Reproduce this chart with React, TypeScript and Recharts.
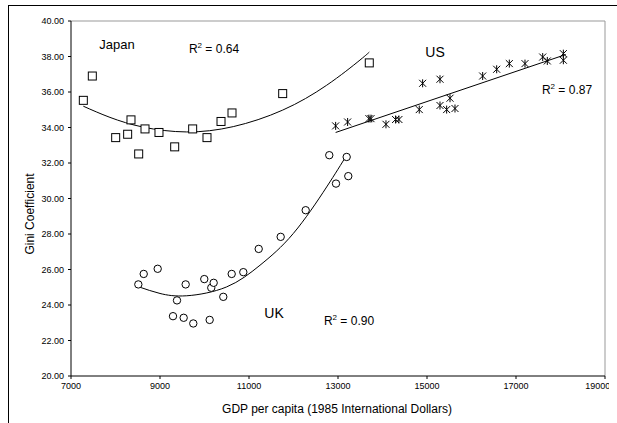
import React from "react";
import {
  ComposedChart,
  Scatter,
  Line,
  XAxis,
  YAxis,
  ReferenceLine,
} from "recharts";

// GDP per capita (x) and Gini coefficient (y)
const japanX = [7277, 7479, 8004, 8273, 8348, 8521, 8663, 8977, 9330, 9734, 10056, 10371, 10618, 11757, 13703];
const japanY = [35.53, 36.9, 33.43, 33.62, 34.43, 32.51, 33.92, 33.72, 32.91, 33.92, 33.43, 34.34, 34.82, 35.91, 37.64];

const ukX = [8513, 8634, 8948, 9292, 9382, 9532, 9577, 9748, 9995, 10116, 10152, 10206, 10422, 10611, 10872, 11218, 11712, 12274, 12804, 12955, 13195, 13231];
const ukY = [25.16, 25.75, 26.04, 23.37, 24.26, 23.28, 25.16, 22.96, 25.46, 23.16, 24.97, 25.25, 24.46, 25.75, 25.85, 27.16, 27.84, 29.34, 32.44, 30.84, 32.34, 31.26];

const usX = [12947, 13216, 13695, 13741, 14078, 14294, 14369, 14826, 14902, 15292, 15292, 15442, 15517, 15629, 16251, 16566, 16850, 17202, 17600, 17704, 18064, 18064];
const usY = [34.09, 34.31, 34.5, 34.5, 34.18, 34.45, 34.45, 35.01, 36.49, 36.72, 35.24, 35.01, 35.65, 35.07, 36.9, 37.28, 37.6, 37.6, 37.97, 37.75, 38.16, 37.79];

// trend curves, points
const japanTrendX = [7277, 7876, 8625, 9600, 10647, 11757, 12745, 13494, 13703];
const japanTrendY = [35.2, 34.57, 34.02, 33.75, 34.05, 34.98, 36.38, 37.8, 38.25];
const ukTrendX = [8528, 9000, 9600, 10498, 11247, 11996, 12745, 13195];
const ukTrendY = [25.02, 24.65, 24.52, 25.02, 26.24, 28.03, 30.65, 32.44];
const usTrendX = [12947, 18118];
const usTrendY = [33.72, 38.11];

const xTicks = [7000, 9000, 11000, 13000, 15000, 17000, 19000];
const yTicks = [20, 22, 24, 26, 28, 30, 32, 34, 36, 38, 40];

const zip = (xs: number[], ys: number[]) => xs.map((x, i) => ({ x, y: ys[i] }));

const FONT = '"Liberation Sans", Arial, sans-serif';

const SquareMark = (props: any) => {
  const { cx, cy } = props;
  return <rect x={cx - 4} y={cy - 4} width={8} height={8} fill="#fff" stroke="#000" strokeWidth={1} />;
};

const CircleMark = (props: any) => {
  const { cx, cy } = props;
  return <circle cx={cx} cy={cy} r={3.7} fill="#fff" stroke="#000" strokeWidth={1} />;
};

const StarMark = (props: any) => {
  const { cx, cy } = props;
  const s = 3.5;
  return (
    <g stroke="#000" strokeWidth={1}>
      <line x1={cx - s} y1={cy - s} x2={cx + s} y2={cy + s} />
      <line x1={cx - s} y1={cy + s} x2={cx + s} y2={cy - s} />
      <line x1={cx} y1={cy - s - 0.5} x2={cx} y2={cy + s + 0.5} />
    </g>
  );
};

function Note({ x, y, children, size = 13, rotate = 0 }: any) {
  return (
    <div
      style={{
        position: "absolute",
        left: x,
        top: y,
        transform: `translate(-50%, -50%) rotate(${rotate}deg)`,
        fontFamily: FONT,
        fontSize: size,
        lineHeight: 1,
        whiteSpace: "nowrap",
        color: "#000",
      }}
    >
      {children}
    </div>
  );
}

function R2({ value }: { value: string }) {
  return (
    <span>
      R<span style={{ fontSize: 8, position: "relative", top: -5 }}>2</span> = {value}
    </span>
  );
}

export default function App() {
  return (
    <div
      style={{
        position: "absolute",
        left: 8,
        top: 5,
        width: 609,
        height: 418,
        borderLeft: "1px solid #000",
        borderTop: "1px solid #000",
        boxSizing: "border-box",
        background: "#fff",
      }}
    >
      <ComposedChart width={600} height={410} margin={{ top: 15, right: 4, bottom: 10, left: 0 }}>
        <XAxis
          type="number"
          dataKey="x"
          domain={[7000, 19000]}
          ticks={xTicks}
          tick={{ fontSize: 9, fill: "#000", fontFamily: FONT }}
          tickSize={3}
          tickMargin={4}
          stroke="#000"
          height={30}
          allowDataOverflow
        />
        <YAxis
          type="number"
          dataKey="y"
          domain={[20, 40]}
          ticks={yTicks}
          tickFormatter={(v: number) => v.toFixed(2)}
          tick={{ fontSize: 9, fill: "#000", fontFamily: FONT }}
          tickSize={3}
          tickMargin={4}
          stroke="#000"
          width={62}
          allowDataOverflow
        />
        <ReferenceLine y={40} stroke="#999" />
        <ReferenceLine x={19000} stroke="#999" />
        <Line data={zip(japanTrendX, japanTrendY)} dataKey="y" type="natural" stroke="#000" strokeWidth={1} dot={false} isAnimationActive={false} />
        <Line data={zip(ukTrendX, ukTrendY)} dataKey="y" type="natural" stroke="#000" strokeWidth={1} dot={false} isAnimationActive={false} />
        <Line data={zip(usTrendX, usTrendY)} dataKey="y" type="linear" stroke="#000" strokeWidth={1} dot={false} isAnimationActive={false} />
        <Scatter name="Japan" data={zip(japanX, japanY)} shape={SquareMark} isAnimationActive={false} />
        <Scatter name="UK" data={zip(ukX, ukY)} shape={CircleMark} isAnimationActive={false} />
        <Scatter name="US" data={zip(usX, usY)} shape={StarMark} isAnimationActive={false} />
      </ComposedChart>

      <Note x={108} y={38}>Japan</Note>
      <Note x={205} y={43} size={12}><R2 value="0.64" /></Note>
      <Note x={426} y={46} size={14}>US</Note>
      <Note x={558} y={84} size={12}><R2 value="0.87" /></Note>
      <Note x={265} y={307} size={14}>UK</Note>
      <Note x={340} y={315} size={12}><R2 value="0.90" /></Note>
      <Note x={21} y={208} size={12} rotate={-90}>Gini Coefficient</Note>
      <Note x={328} y={403} size={12}>GDP per capita (1985 International Dollars)</Note>
    </div>
  );
}
